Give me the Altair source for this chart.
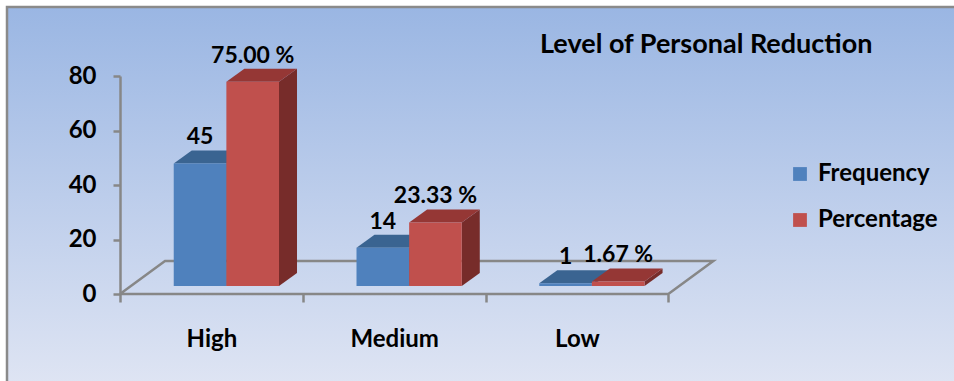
import altair as alt
import pandas as pd

# ---------------- data ----------------
title_text = "Level of Personal Reduction"
categories = ["High", "Medium", "Low"]
series_names = ["Frequency", "Percentage"]
frequency = [45, 14, 1]
percentage = [75.00, 23.33, 1.67]
y_ticks = [0, 20, 40, 60, 80]

# ---------------- design constants ----------------
W, H = 594, 218            # plot area
XMAX = 3.25
UX = W / XMAX              # px per category unit
UY = H / 80                # px per value unit
BASE = 8 / UY              # bar base above floor front edge (3D depth)
DX, DY = 18 / UX, 13 / UY  # bar depth
FDX, FDY = 45 / UX, 33 / UY  # floor depth
GROUP_OFF, BAR_W = 0.294, 0.288

front_colors = ["#4F81BD", "#C0504D"]
top_colors = ["#3A6491", "#953735"]
side_colors = ["#2E4F78", "#772C2A"]
FONT = "Lato"
GRAY = "#878787"

rows_front, rows_top, rows_side = [], [], []
for i, cat in enumerate(categories):
    for s, (name, vals) in enumerate(zip(series_names, [frequency, percentage])):
        v = vals[i]
        x0 = i + GROUP_OFF + s * BAR_W
        x1 = x0 + BAR_W
        bar = f"{cat}-{name}"
        label = f"{v:.2f} %" if s == 1 else f"{v:d}"
        rows_front.append(dict(bar=bar, series=name, x0=x0, x1=x1, ya=BASE, yb=BASE + v,
                               xc=(x0 + x1) / 2, yl=BASE + v + DY, label=label))
        rows_top += [dict(bar=bar, c=top_colors[s], y=BASE + v, xa=x0, xb=x1),
                     dict(bar=bar, c=top_colors[s], y=BASE + v + DY, xa=x0 + DX, xb=x1 + DX)]
        rows_side += [dict(bar=bar, c=side_colors[s], x=x1, ya=BASE, yb=BASE + v),
                      dict(bar=bar, c=side_colors[s], x=x1 + DX, ya=BASE + DY, yb=BASE + v + DY)]

n = len(categories)
floor = pd.DataFrame(dict(
    x=[0, n, n + FDX, FDX, 0],
    y=[0, 0, FDY, FDY, 0],
    o=[0, 1, 2, 3, 4],
))
df_front = pd.DataFrame(rows_front)
df_top = pd.DataFrame(rows_top)
df_side = pd.DataFrame(rows_side)
one = pd.DataFrame({"a": [0]})

xs = alt.Scale(domain=[0, XMAX], nice=False, zero=False)
ys = alt.Scale(domain=[0, 80], nice=False)

label_expr = " : ".join(
    [f"datum.value == {i + 0.5} ? '{c}'" for i, c in enumerate(categories)]) + " : ''"
xax = alt.Axis(
    values=[k * 0.5 for k in range(2 * n + 1)],
    labelExpr=label_expr,
    tickOpacity={"condition": {"test": "datum.value % 1 == 0", "value": 1}, "value": 0},
    domain=False, grid=False, title=None, zindex=1,
    tickSize=8, tickColor=GRAY, tickWidth=2.5,
    labelFont=FONT, labelFontSize=24, labelFontWeight="bold", labelColor="black",
    labelPadding=25, labelOverlap=False, labelFlush=False,
)
yax = alt.Axis(
    values=y_ticks, grid=False, title=None, zindex=1,
    domainColor=GRAY, domainWidth=2.5, tickColor=GRAY, tickWidth=2.5, tickSize=7,
    labelFont=FONT, labelFontSize=24, labelFontWeight="bold", labelColor="black",
    labelPadding=17,
)

gradient = alt.Gradient(
    gradient="linear",
    stops=[alt.GradientStop(color="#9AB6E3", offset=0),
           alt.GradientStop(color="#DEE4F3", offset=0.77),
           alt.GradientStop(color="#DEE4F3", offset=1)],
    x1=0, x2=0, y1=0, y2=1,
)

bg = alt.Chart(one).mark_rect(fill=gradient, stroke="#8A8A8A", strokeWidth=2.5).encode(
    x=alt.value(-113), x2=alt.value(W + 300), y=alt.value(-69), y2=alt.value(H + 200)
)

floor_layer = alt.Chart(floor).mark_line(color=GRAY, strokeWidth=2.5).encode(
    x=alt.X("x:Q", scale=xs, axis=xax),
    y=alt.Y("y:Q", scale=ys, axis=yax),
    order="o:Q",
)

side_layer = alt.Chart(df_side).mark_area(orient="vertical").encode(
    x=alt.X("x:Q", scale=xs, axis=xax),
    y=alt.Y("ya:Q", scale=ys, axis=yax, stack=None),
    y2="yb:Q",
    detail="bar:N",
    fill=alt.Fill("c:N", scale=None),
)

top_layer = alt.Chart(df_top).mark_area(orient="horizontal").encode(
    y=alt.Y("y:Q", scale=ys, axis=yax),
    x=alt.X("xa:Q", scale=xs, axis=xax, stack=None),
    x2="xb:Q",
    detail="bar:N",
    fill=alt.Fill("c:N", scale=None),
)

front_layer = alt.Chart(df_front).mark_rect().encode(
    x=alt.X("x0:Q", scale=xs, axis=xax),
    x2="x1:Q",
    y=alt.Y("ya:Q", scale=ys, axis=yax),
    y2="yb:Q",
    color=alt.Color(
        "series:N",
        scale=alt.Scale(domain=series_names, range=front_colors),
        legend=alt.Legend(
            title=None, orient="none", legendX=668, legendY=86, padding=0,
            symbolType="square", symbolSize=190, symbolStrokeWidth=0, symbolOpacity=1,
            labelFont=FONT, labelFontSize=24, labelFontWeight="bold", labelColor="black",
            labelOffset=6, rowPadding=22, labelLimit=300,
        ),
    ),
)

labels = alt.Chart(df_front).mark_text(
    font=FONT, fontSize=23, fontWeight="bold", color="black",
    align="center", baseline="alphabetic", dy=-6,
).encode(
    x=alt.X("xc:Q", scale=xs, axis=xax),
    y=alt.Y("yl:Q", scale=ys, axis=yax),
    text="label:N",
)

title = alt.Chart(one).mark_text(
    text=title_text, font=FONT, fontSize=27, fontWeight="bold", color="black",
    align="left", baseline="alphabetic",
).encode(x=alt.value(420), y=alt.value(-23))

chart = alt.layer(bg, floor_layer, side_layer, top_layer, front_layer, labels, title).properties(
    width=W, height=H,
    padding={"left": 120, "top": 76, "right": 954 - 120 - W, "bottom": 381 - 76 - H},
    autosize=alt.AutoSizeParams(type="none"),
    background="white",
).configure_view(stroke=None)

chart.save("out.html", embed_options={"renderer": "svg", "actions": False})
